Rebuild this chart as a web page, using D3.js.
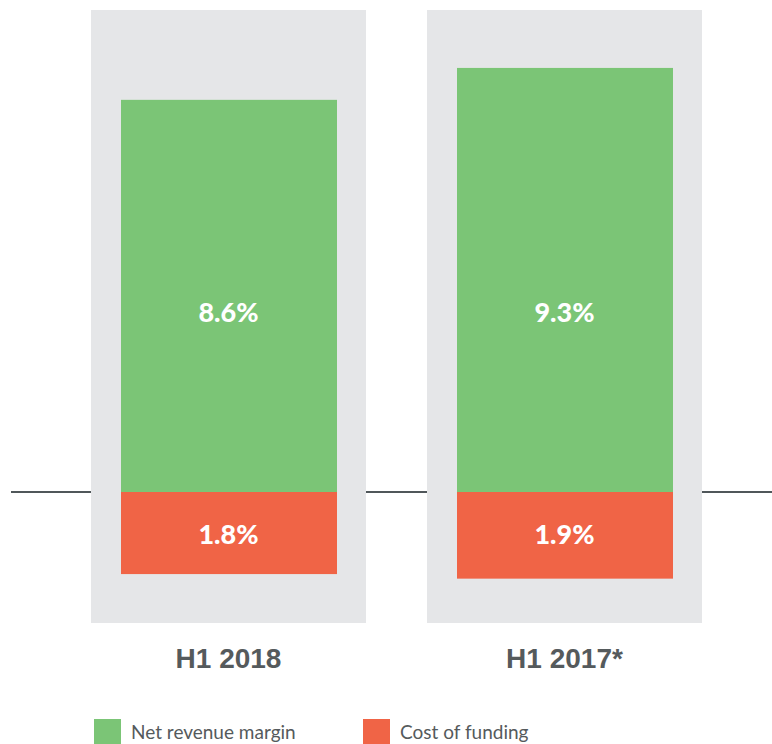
<!DOCTYPE html>
<html>
<head>
<meta charset="utf-8">
<script src="https://cdn.jsdelivr.net/npm/d3@7"></script>
<style>
  body { margin: 0; background: #fff; }
  svg { display: block; }
</style>
</head>
<body>
<div id="chart"></div>
<script>
// data
const periods = ["H1 2018", "H1 2017*"];
const netRevenueMargin = [8.6, 9.3];
const costOfFunding = [1.8, 1.9];
const seriesNames = ["Net revenue margin", "Cost of funding"];

const colors = { green: "#7bc576", red: "#f06446", panel: "#e5e6e8", text: "#555a5c" };

const width = 772, height = 744;
const svg = d3.select("#chart").append("svg")
  .attr("width", width)
  .attr("height", height);

// scales
const x = d3.scaleBand()
  .domain(periods)
  .range([91, 702])
  .paddingInner(61 / 336)
  .paddingOuter(0);

const pxPerPct = 45.6;
const zeroY = 492;
const yMax = (zeroY - 10) / pxPerPct;
const yMin = -(623 - zeroY) / pxPerPct;
const y = d3.scaleLinear().domain([yMin, yMax]).range([623, 10]);

const barInset = 30;
const barWidth = x.bandwidth() - 2 * barInset + 1;

// zero line, only visible in the gaps between panels
svg.append("line")
  .attr("x1", 11)
  .attr("x2", width)
  .attr("y1", y(0))
  .attr("y2", y(0))
  .attr("stroke", "#50575a")
  .attr("stroke-width", 2.2);

// grey panels behind each period
svg.selectAll("rect.panel")
  .data(periods)
  .enter().append("rect")
  .attr("class", "panel")
  .attr("x", d => x(d))
  .attr("y", y(yMax))
  .attr("width", x.bandwidth())
  .attr("height", y(yMin) - y(yMax))
  .attr("fill", colors.panel);

// positive bars (net revenue margin)
svg.selectAll("rect.nrm")
  .data(netRevenueMargin)
  .enter().append("rect")
  .attr("class", "nrm")
  .attr("x", (d, i) => x(periods[i]) + barInset)
  .attr("y", d => y(d))
  .attr("width", barWidth)
  .attr("height", d => y(0) - y(d))
  .attr("fill", colors.green);

// negative bars (cost of funding)
svg.selectAll("rect.cof")
  .data(costOfFunding)
  .enter().append("rect")
  .attr("class", "cof")
  .attr("x", (d, i) => x(periods[i]) + barInset)
  .attr("y", y(0))
  .attr("width", barWidth)
  .attr("height", d => y(-d) - y(0))
  .attr("fill", colors.red);

// value labels
const valueFont = "Lato, 'Open Sans', sans-serif";
function valueLabels(cls, values, pos) {
  svg.selectAll("text." + cls)
    .data(values)
    .enter().append("text")
    .attr("class", cls)
    .attr("x", (d, i) => x(periods[i]) + x.bandwidth() / 2)
    .attr("y", y(pos))
    .attr("dy", "0.36em")
    .attr("text-anchor", "middle")
    .attr("fill", "#fff")
    .attr("font-family", valueFont)
    .attr("font-weight", 900)
    .attr("font-size", "27px")
    .text(d => d.toFixed(1) + "%");
}
valueLabels("nrm-label", netRevenueMargin, 3.95);
valueLabels("cof-label", costOfFunding, -0.93);

// category labels under panels
svg.selectAll("text.period")
  .data(periods)
  .enter().append("text")
  .attr("class", "period")
  .attr("x", d => x(d) + x.bandwidth() / 2)
  .attr("y", 668)
  .attr("text-anchor", "middle")
  .attr("fill", colors.text)
  .attr("font-family", "'Liberation Sans', Arial, sans-serif")
  .attr("font-weight", 700)
  .attr("font-size", "28px")
  .text(d => d);

// legend
const legendX = [94, 363];
const legendColors = [colors.green, colors.red];
const legend = svg.selectAll("g.legend")
  .data(seriesNames)
  .enter().append("g")
  .attr("class", "legend")
  .attr("transform", (d, i) => `translate(${legendX[i]},719)`);

legend.append("rect")
  .attr("width", 27)
  .attr("height", 27)
  .attr("fill", (d, i) => legendColors[i]);

legend.append("text")
  .attr("x", 37)
  .attr("y", 20)
  .attr("fill", colors.text)
  .attr("font-family", "Lato, 'Open Sans', sans-serif")
  .attr("font-size", "19px")
  .text(d => d);
</script>
</body>
</html>
